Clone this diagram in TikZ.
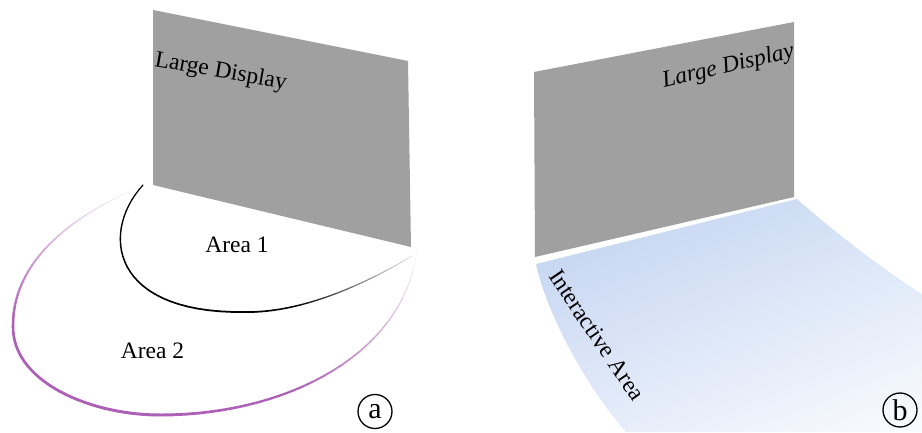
\documentclass[tikz,border=0pt]{standalone}
\usepackage{fontspec}
\setmainfont{Liberation Serif}
\usepackage{tikz}
\usetikzlibrary{positioning,shadings}
\definecolor{dispgray}{RGB}{160,160,160}
\definecolor{areapurple}{RGB}{172,96,182}
\definecolor{iablue}{RGB}{190,208,239}
\definecolor{iablue2}{RGB}{214,227,246}
\definecolor{iablue3}{RGB}{226,234,249}
\definecolor{iawhite}{RGB}{250,251,254}
\tikzstyle{disp_g} = [fill=dispgray, draw=none]
\tikzstyle{lbl_t} = [font=\fontsize{23.5}{27}\selectfont, inner sep=0pt]
\tikzstyle{tag_c} = [circle, draw=black, line width=1.3pt, minimum size=34pt, inner sep=0pt, font=\fontsize{30}{32}\selectfont]

\begin{document}
\begin{tikzpicture}[x=1pt,y=1pt,line cap=round]
\useasboundingbox (0,0) rectangle (922,432);
% (a) display and the two areas
\fill[disp_g] (153,422) -- (408,371) -- (411,185) -- (153,247) -- cycle;
\node[lbl_t, rotate=-10, anchor=base west] (dispA) at (154,366) {Large Display};

\path (143,247) .. controls (100,200) and (110,118) .. (245,120)
  foreach \i in {0,...,30} {coordinate[pos=\i/30] (inA\i)};
\path (245,120) .. controls (300,119) and (362,146) .. (412,176)
  foreach \i in {0,...,30} {coordinate[pos=\i/30] (inB\i)};
\path (140,245) .. controls (80,220) and (12,175) .. (13,105)
  foreach \i in {0,...,30} {coordinate[pos=\i/30] (outA\i)};
\path (13,105) .. controls (13,50) and (90,17) .. (160,17)
  foreach \i in {0,...,30} {coordinate[pos=\i/30] (outB\i)};
\path (160,17) .. controls (290,17) and (405,80) .. (417,182)
  foreach \i in {0,...,30} {coordinate[pos=\i/30] (outC\i)};

\foreach \i in {1,...,30}{
  \pgfmathtruncatemacro\j{\i-1}
  \pgfmathsetmacro\w{1.2+0.6*\i/30}
  \draw[black, line width=\w pt] (inA\j) -- (inA\i);
  \pgfmathtruncatemacro\f{100-88*max(0,\i-9)/21}
  \pgfmathsetmacro\w{1.8-1.0*\i/30}
  \draw[black!\f!white, line width=\w pt] (inB\j) -- (inB\i);
  \pgfmathtruncatemacro\f{4+96*(\i/30)^1.2}
  \pgfmathsetmacro\w{0.6+2.0*\i/30}
  \draw[areapurple!\f!white, line width=\w pt] (outA\j) -- (outA\i);
  \pgfmathsetmacro\w{2.6+0.4*\i/30}
  \draw[areapurple, line width=\w pt] (outB\j) -- (outB\i);
  \pgfmathtruncatemacro\f{100-94*max(0,\i-12)/18}
  \pgfmathsetmacro\w{3.0-2.2*\i/30}
  \draw[areapurple!\f!white, line width=\w pt] (outC\j) -- (outC\i);
}
\node[lbl_t] (area1) at (237,187) {Area 1};
\node[lbl_t] (area2) at (152.5,81) {Area 2};
\node[tag_c] (tagA) at (375,20.5) {a};

% (b) display and interactive area
\fill[disp_g] (534,360) -- (794,410) -- (794,235) -- (535,175) -- cycle;
\shade[upper left=iablue, upper right=iablue2, lower left=iablue3, lower right=iawhite]
  (536,168) -- (797,233) .. controls (840,195) and (890,158) .. (922,138)
  -- (922,0) -- (626,0) .. controls (586,45) and (546,120) .. (536,168) -- cycle;
\node[lbl_t, font=\fontsize{23.5}{27}\selectfont\itshape, rotate=13, anchor=base west] (dispB) at (664,344.5) {Large Display};
\node[lbl_t, rotate=-56] (iaText) at (597,97) {Interactive Area};
\node[tag_c] (tagB) at (900,22) {b};
\end{tikzpicture}
\end{document}
